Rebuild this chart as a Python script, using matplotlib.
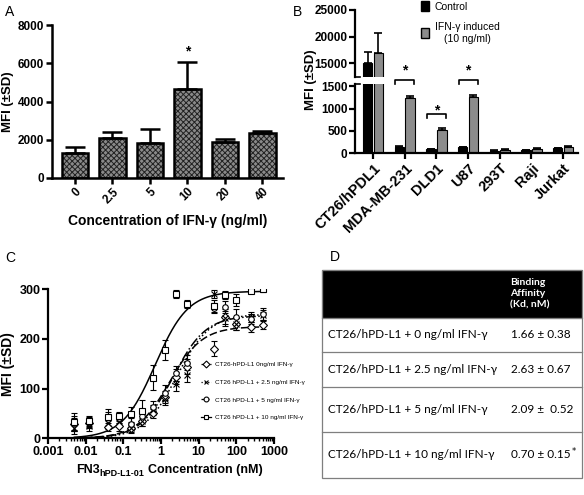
import os
import numpy as np
import matplotlib
matplotlib.use('Agg')
import matplotlib.pyplot as plt
from matplotlib import font_manager as fm
from matplotlib.lines import Line2D
from matplotlib.patches import Patch, Rectangle


def bold_family(candidates):
    for fam in candidates:
        try:
            p = fm.findfont(fm.FontProperties(family=fam, weight='bold'), fallback_to_default=False)
        except ValueError:
            continue
        name = os.path.basename(p).lower()
        if 'bold' in name or 'bd' in name:
            return fam
    return 'DejaVu Sans'


sans = bold_family(['Liberation Sans', 'Arimo', 'Roboto', 'Inter', 'DejaVu Sans'])
plt.rcParams['font.family'] = [sans, 'DejaVu Sans']
plt.rcParams['font.weight'] = 'bold'
plt.rcParams['axes.labelweight'] = 'bold'
plt.rcParams['hatch.linewidth'] = 0.7

# --- panel A: MFI vs IFN-gamma dose
ifn_doses = ['0', '2.5', '5', '10', '20', '40']
mfi_a = [1290, 2080, 1820, 4640, 1900, 2340]
sd_a = [330, 340, 730, 1420, 160, 140]
star_a_at = 3
star_a_y = 6600

# --- panel B: cell lines, control vs IFN-gamma induced
cell_lines = ['CT26/hPDL1', 'MDA-MB-231', 'DLD1', 'U87', '293T', 'Raji', 'Jurkat']
mfi_ctrl = [15000, 140, 90, 130, 60, 75, 110]
sd_ctrl = [2200, 25, 15, 15, 10, 8, 15]
mfi_ifn = [17000, 1230, 530, 1250, 80, 100, 145]
sd_ifn = [3600, 50, 40, 55, 10, 10, 15]
sig_groups = [1, 2, 3]
sig_bracket = [1630, 870, 1630]
sig_star = [1850, 960, 1850]

# --- panel C: binding curves
fn3_conc = [0.005, 0.012, 0.039, 0.078, 0.156, 0.3125, 0.625, 1.25, 2.5, 5, 25, 50, 100, 250, 500]
mfi_0 = [28, 30, 22, 25, 20, 35, 50, 84, 124, 144, 180, 245, 230, 225, 228]
sd_0 = [12, 10, 8, 10, 8, 10, 10, 12, 15, 15, 15, 15, 12, 10, 8]
mfi_25 = [20, 25, 30, 35, 20, 35, 57, 80, 110, 128, 290, 242, 230, 245, 248]
sd_25 = [12, 10, 12, 10, 10, 10, 10, 12, 15, 15, 8, 15, 12, 10, 10]
mfi_5 = [30, 33, 38, 40, 28, 45, 64, 92, 131, 152, 262, 264, 245, 240, 250]
sd_5 = [15, 10, 15, 10, 12, 12, 12, 15, 15, 15, 10, 12, 15, 10, 12]
mfi_10 = [33, 35, 42, 44, 48, 55, 122, 177, 291, 271, 266, 288, 279, 297, 300]
sd_10 = [18, 10, 18, 8, 15, 22, 25, 20, 8, 8, 12, 8, 12, 5, 5]
series_labels = ['CT26-hPD-L1 0ng/ml IFN-γ', 'CT26 hPD-L1 + 2.5 ng/ml IFN-γ',
                 'CT26 hPD-L1 + 5 ng/ml IFN-γ', 'CT26 hPD-L1 + 10 ng/ml IFN-γ']
bmax = [225, 250, 247, 296]

# --- panel D: table
table_rows = ['CT26/hPD-L1 + 0 ng/ml IFN-γ', 'CT26/hPD-L1 + 2.5 ng/ml IFN-γ',
              'CT26/hPD-L1 + 5 ng/ml IFN-γ', 'CT26/hPD-L1 + 10 ng/ml IFN-γ']
kd = [1.66, 2.63, 2.09, 0.70]
kd_text = ['1.66 ± 0.38', '2.63 ± 0.67', '2.09 ±  0.52', '0.70 ± 0.15']

W, H = 584, 495
fig = plt.figure(figsize=(W / 100, H / 100), dpi=100)


def add_ax(left, top, right, bottom):
    return fig.add_axes([left / W, 1 - bottom / H, (right - left) / W, (bottom - top) / H])


def style(ax, lw=1.6):
    for s in ['top', 'right']:
        ax.spines[s].set_visible(False)
    for s in ['left', 'bottom']:
        ax.spines[s].set_linewidth(lw)
    ax.tick_params(width=lw, length=4, labelsize=8.5, pad=1.5)
    for t in ax.get_xticklabels() + ax.get_yticklabels():
        t.set_fontweight('bold')


# overlay for letters and the table
ov = fig.add_axes([0, 0, 1, 1])
ov.set_xlim(0, W)
ov.set_ylim(H, 0)
ov.axis('off')

# ---------------- A
axA = add_ax(52, 25, 283, 178)
xa = np.arange(len(ifn_doses))
axA.bar(xa, mfi_a, 0.7, color='#8a8a8a', edgecolor='#222222', hatch='xxxxxx', linewidth=0, zorder=2)
axA.bar(xa, mfi_a, 0.7, fill=False, edgecolor='black', linewidth=1.8, zorder=3)
axA.errorbar(xa, mfi_a, yerr=[np.zeros(len(sd_a)), sd_a], fmt='none', ecolor='black',
             elinewidth=1.8, capsize=7, capthick=1.8, zorder=4)
axA.text(star_a_at, star_a_y, '*', ha='center', va='center', fontsize=10, fontweight='bold')
axA.set_ylim(0, 8000)
axA.set_xlim(-0.61, 5.55)
axA.set_yticks([0, 2000, 4000, 6000, 8000])
axA.set_xticks(xa)
axA.set_xticklabels(ifn_doses, rotation=45, ha='right', rotation_mode='anchor')
style(axA, 1.8)
axA.set_ylabel('MFI (±SD)', fontsize=9.5, fontweight='bold')
axA.yaxis.set_label_coords(-0.165, 0.5)
axA.set_xlabel('Concentration of IFN-γ (ng/ml)', fontsize=10, fontweight='bold')
axA.xaxis.set_label_coords(0.5, -0.235)

# ---------------- B (broken y axis)
axBu = add_ax(355, 10, 578, 76.7)
axBl = add_ax(355, 83.5, 578, 153.3)
xb = np.arange(len(cell_lines))
for ax in (axBu, axBl):
    ax.bar(xb - 0.17, mfi_ctrl, 0.3, color='black', edgecolor='black', linewidth=0.8, zorder=2)
    ax.bar(xb + 0.17, mfi_ifn, 0.3, color='#8c8c8c', edgecolor='black', linewidth=0.8, zorder=2)
    ax.errorbar(xb - 0.17, mfi_ctrl, yerr=[np.zeros(7), sd_ctrl], fmt='none', ecolor='black',
                elinewidth=1.2, capsize=3, capthick=1.2, zorder=3)
    ax.errorbar(xb + 0.17, mfi_ifn, yerr=[np.zeros(7), sd_ifn], fmt='none', ecolor='black',
                elinewidth=1.2, capsize=3, capthick=1.2, zorder=3)
    ax.set_xlim(-0.57, 6.47)
axBu.set_ylim(12500, 25000)
axBu.set_yticks([15000, 20000, 25000])
axBu.set_xticks([])
style(axBu)
axBu.spines['bottom'].set_visible(False)
axBl.set_ylim(0, 1560)
axBl.set_yticks([0, 500, 1000, 1500])
axBl.set_xticks(xb)
axBl.set_xticklabels(cell_lines, rotation=45, ha='right', rotation_mode='anchor')
style(axBl)
axBl.tick_params(axis='x', labelsize=10.5)
# small break marks on the y axis
axBu.plot([-0.57, -0.4], [12500, 12500], color='black', lw=1.2, clip_on=False)
axBl.plot([-0.57, -0.4], [1560, 1560], color='black', lw=1.2, clip_on=False)
for g, hb, hs in zip(sig_groups, sig_bracket, sig_star):
    axBl.plot([g - 0.3, g - 0.3, g + 0.3, g + 0.3], [hb - 80, hb, hb, hb - 80],
              color='black', lw=1.2, clip_on=False)
    axBl.text(g, hs, '*', ha='center', va='center', fontsize=10, fontweight='bold', clip_on=False)
fig.text(311 / W, 1 - 80 / H, 'MFI (±SD)', rotation=90, ha='center', va='center',
         fontsize=9.5, fontweight='bold')
legB = axBu.legend(handles=[Patch(fc='black', ec='black'), Patch(fc='#8c8c8c', ec='black')],
                   labels=['Control', 'IFN-γ induced\n(10 ng/ml)'],
                   loc='upper left', bbox_to_anchor=(421 / W, 1 - 1 / H),
                   bbox_transform=fig.transFigure, frameon=False,
                   prop={'size': 7.5, 'weight': 'normal'}, handlelength=0.8, handleheight=1.1,
                   handletextpad=0.5, labelspacing=1.0, borderaxespad=0, borderpad=0)
for t in legB.get_texts():
    t.set_multialignment('center')

# ---------------- C
axC = add_ax(48, 289.3, 274, 438.3)
markers = ['D', 'x', 'o', 's']
lstyles = [(0, (5, 2)), ':', '-.', '-']
means = [mfi_0, mfi_25, mfi_5, mfi_10]
sds = [sd_0, sd_25, sd_5, sd_10]
xs = np.logspace(np.log10(fn3_conc[0]), np.log10(fn3_conc[-1]), 300)
handles = []
for m, ls, mu, sd, bm, k in zip(markers, lstyles, means, sds, bmax, kd):
    axC.errorbar(fn3_conc, mu, yerr=sd, fmt=m, mfc='white', mec='black', color='black', ms=4,
                 mew=0.8, ecolor='black', elinewidth=0.8, capsize=2, capthick=0.8, zorder=3)
    axC.plot(xs, bm * xs / (k + xs), color='black', linestyle=ls, lw=1.1, zorder=2)
    handles.append(Line2D([], [], color='black', linestyle=ls, marker=m, mfc='white', mec='black',
                          ms=3.5, mew=0.8, lw=0.9))
axC.set_xscale('log')
axC.set_xlim(0.001, 1000)
axC.set_ylim(0, 300)
axC.set_yticks([0, 100, 200, 300])
axC.set_xticks([0.001, 0.01, 0.1, 1, 10, 100, 1000])
axC.set_xticklabels(['0.001', '0.01', '0.1', '1', '10', '100', '1000'])
style(axC)
axC.tick_params(which='minor', length=2.5, width=1.0)
axC.tick_params(labelsize=9)
axC.set_ylabel('MFI (±SD)', fontsize=10, fontweight='bold')
axC.yaxis.set_label_coords(-0.145, 0.5)
axC.legend(handles=handles, labels=series_labels, loc='upper left',
           bbox_to_anchor=(201 / W, 1 - 362 / H), bbox_transform=fig.transFigure,
           frameon=False, prop={'size': 4.6, 'weight': 'normal'}, handlelength=1.6,
           handletextpad=0.6, labelspacing=1.9, borderaxespad=0, borderpad=0)
t1 = ov.text(76, 473, 'FN3', fontsize=9, fontweight='bold', ha='left', va='baseline')
t2 = ov.annotate('hPD-L1-01', xy=(1, 0), xycoords=t1, xytext=(0, -1.5),
                 textcoords='offset points', fontsize=6.5, fontweight='bold', ha='left', va='bottom')
ov.annotate('Concentration (nM)', xy=(1, 0), xycoords=(t2, t1), xytext=(2.5, 0),
            textcoords='offset points', fontsize=9, fontweight='bold', ha='left', va='bottom')

# ---------------- D table
tfont = ['Lato', 'DejaVu Sans']
left, right = 322, 582
lines_y = [270, 318, 351.7, 386.7, 431.7, 477.7]
ov.add_patch(Rectangle((left, lines_y[0]), right - left, lines_y[1] - lines_y[0],
                       facecolor='black', edgecolor='#7f7f7f', lw=0.8))
ov.add_patch(Rectangle((left, lines_y[0]), right - left, lines_y[-1] - lines_y[0],
                       facecolor='none', edgecolor='#7f7f7f', lw=0.9))
for yl in lines_y[1:-1]:
    ov.plot([left, right], [yl, yl], color='#7f7f7f', lw=0.9)
ov.text(510, 294, 'Binding\nAffinity\n(Kd, nM)', color='white', fontsize=7.5, fontweight='bold',
        family=tfont, ha='left', va='center', linespacing=1.3)
for i, (lab, val) in enumerate(zip(table_rows, kd_text)):
    yc = (lines_y[i + 1] + lines_y[i + 2]) / 2
    ov.text(328, yc, lab, fontsize=8.5, fontweight='normal', family=tfont, ha='left', va='center')
    tv = ov.text(511, yc, val, fontsize=8.5, fontweight='normal', family=tfont, ha='left', va='center')
    if i == 3:
        ov.annotate('*', xy=(1, 1), xycoords=tv, xytext=(0.5, 1.5), textcoords='offset points',
                    fontsize=6, fontweight='normal', family=['DejaVu Sans'], ha='left', va='top')

# letters
for letter, (lx, ly) in zip('ABCD', [(5, 12), (293, 12), (5, 258), (330, 257)]):
    ov.text(lx, ly, letter, fontsize=10, fontweight='normal', ha='left', va='center')

fig.savefig('out.png', dpi=100)
